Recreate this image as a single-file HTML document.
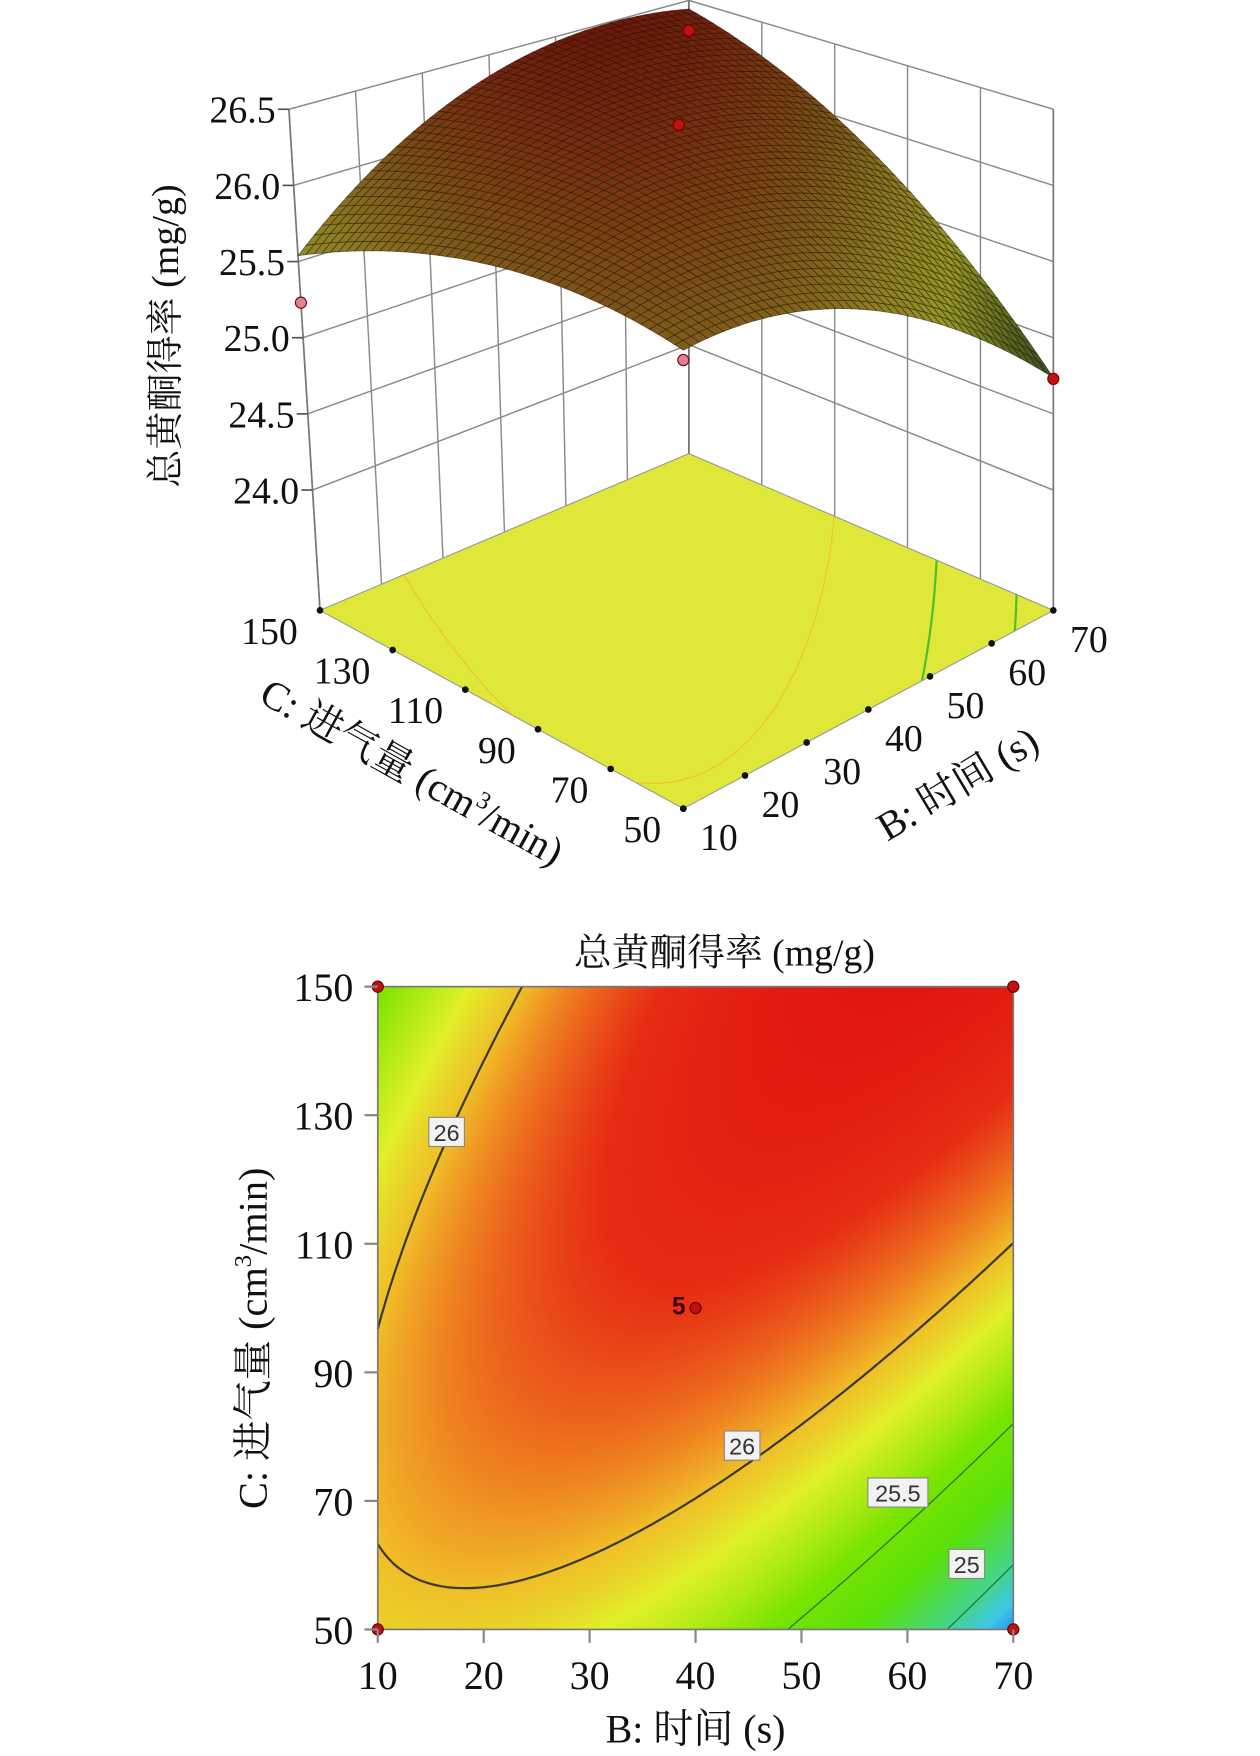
<!DOCTYPE html>
<html><head><meta charset="utf-8">
<style>
html,body{margin:0;padding:0;background:#fff;overflow:hidden}
#wrap{position:absolute;left:0;top:0;width:1134px;height:1568px;transform-origin:0 0;transform:scale(1.1111,1.1199)}
#svg3d,#svg2d{position:absolute;left:0;top:0}
#heat{position:absolute;left:340px;top:881px;width:572px;height:574px}
text{font-family:"Liberation Serif","Noto Serif CJK SC","Noto Sans CJK SC",serif;fill:#111}
</style></head>
<body>
<div id="wrap">
<svg id="svg3d" width="1134" height="800" viewBox="0 0 1134 800"></svg>
<canvas id="heat" width="572" height="574"></canvas>
<svg id="svg2d" width="1134" height="1568" viewBox="0 0 1134 1568"></svg>
</div>
<script>
// ---- model data (coded units x=(B-40)/30, y=(C-100)/50) ----
const coefNames = ["b0","b1","b2","b12","b11","b22"];
const coefValues = [26.28, -0.075, 0.325, 0.525, -0.367, -0.25];
const zTicks = [24.0, 24.5, 25.0, 25.5, 26.0, 26.5];
const bTicks = [10, 20, 30, 40, 50, 60, 70];
const cTicks = [50, 70, 90, 110, 130, 150];
const cTicks3d = [50, 70, 90, 110, 130, 150];
const contourLevels = [26, 25.5, 25];
const labelLevels = ["26", "26", "25.5", "25"];
const labelB = [16.5, 44.4, 59.1, 65.6];
const labelC = [127.4, 78.6, 71.3, 60.2];
const ptB = [10, 70, 10, 70, 40];
const ptC = [50, 50, 150, 150, 100];
const ptZ3d = [25.88, 24.73, 25.23, 26.28, 26.46];

const NS = "http://www.w3.org/2000/svg";
function mk(parent, tag, attrs){const e=document.createElementNS(NS,tag);for(const k in attrs)e.setAttribute(k,attrs[k]);parent.appendChild(e);return e;}
function f(B,C){const x=(B-40)/30,y=(C-100)/50,c=coefValues;return c[0]+c[1]*x+c[2]*y+c[3]*x*y+c[4]*x*x+c[5]*y*y;}

// ---------------- 3D surface ----------------
const s3=document.getElementById('svg3d');
const z0=23.21;
const cF=[615,722],cR=[948,545],cL=[288,545],cK=[620,405];
const kF=150,kR=136,kL=136,kK=123, sF=0,sR=0,sL=-8.5,sK=0;
function P(B,C,z){const u=(B-10)/60,v=(C-50)/100;
 const w=[(1-u)*(1-v),u*(1-v),(1-u)*v,u*v];
 const x=w[0]*cF[0]+w[1]*cR[0]+w[2]*cL[0]+w[3]*cK[0];
 const y=w[0]*cF[1]+w[1]*cR[1]+w[2]*cL[1]+w[3]*cK[1];
 const k=w[0]*kF+w[1]*kR+w[2]*kL+w[3]*kK;
 const s=w[0]*sF+w[1]*sR+w[2]*sL+w[3]*sK;
 return [x+s*(z-z0), y-k*(z-z0)];}
function line(p,q,st,sw,name){const e=mk(s3,'line',{x1:p[0],y1:p[1],x2:q[0],y2:q[1],stroke:st,'stroke-width':sw});
 return e;}
const gc="#8a8a8a";
bTicks.forEach(B=>{line(P(B,150,z0),P(B,150,26.5),gc,1.3,'left-wall-gridline');});
cTicks3d.forEach(C=>{line(P(70,C,z0),P(70,C,26.5),gc,1.3,'right-wall-gridline');});
zTicks.forEach(z=>{line(P(10,150,z),P(70,150,z),gc,1.3,'left-wall-z-gridline');line(P(70,150,z),P(70,50,z),gc,1.3,'right-wall-z-gridline');});
const fl=mk(s3,'polygon',{points:[P(10,50,z0),P(70,50,z0),P(70,150,z0),P(10,150,z0)].map(p=>p.join(',')).join(' '),fill:'#dfe838',stroke:'#999','stroke-width':1});

function segs(level,N){const out=[];const g=[];for(let i=0;i<=N;i++){g[i]=[];for(let j=0;j<=N;j++)g[i][j]=f(10+60*i/N,50+100*j/N);}
 for(let i=0;i<N;i++)for(let j=0;j<N;j++){const v=[g[i][j],g[i+1][j],g[i+1][j+1],g[i][j+1]];
  const pts=[[i,j],[i+1,j],[i+1,j+1],[i,j+1]];const cr=[];
  for(let e=0;e<4;e++){const a=v[e],b=v[(e+1)%4];if((a-level)*(b-level)<0){const t=(level-a)/(b-a);const p=pts[e],q=pts[(e+1)%4];
   cr.push([10+60*(p[0]+t*(q[0]-p[0]))/N,50+100*(p[1]+t*(q[1]-p[1]))/N]);}}
  if(cr.length===2)out.push([cr[0],cr[1]]);else if(cr.length===4){out.push([cr[0],cr[1]]);out.push([cr[2],cr[3]]);}}
 return out;}
[25.5,25,26].forEach((lv,ii)=>{let d='';segs(lv,60).forEach(s=>{const a=P(s[0][0],s[0][1],z0),b=P(s[1][0],s[1][1],z0);d+='M'+a[0].toFixed(1)+' '+a[1].toFixed(1)+'L'+b[0].toFixed(1)+' '+b[1].toFixed(1);});
 const p=mk(s3,'path',{d:d,stroke:ii<2?'#4ac030':'#f0c030','stroke-width':ii<2?2:1,fill:'none'});
 });
line(P(10,150,z0),P(10,150,26.5),'#777',1.5,'z-axis-line');
line(P(70,150,z0-0.0),P(70,150,26.5),'#777',1.5,'back-corner-line');
line(P(70,50,z0),P(70,50,26.5),'#777',1.5,'right-edge-line');
function scol(z){const st=[[24.6,[40,70,50]],[25.0,[85,100,30]],[25.4,[150,150,40]],[25.7,[140,125,35]],[26.0,[125,85,25]],[26.3,[120,45,15]],[26.5,[110,22,10]]];
 if(z<=st[0][0])return st[0][1];for(let i=1;i<st.length;i++)if(z<=st[i][0]){const t=(z-st[i-1][0])/(st[i][0]-st[i-1][0]);return st[i-1][1].map((c,k)=>Math.round(c+t*(st[i][1][k]-c)));}return st[st.length-1][1];}
const N=46,quads=[];
for(let i=0;i<N;i++)for(let j=0;j<N;j++)quads.push([i,j]);
quads.sort((a,b)=>(b[0]+b[1])-(a[0]+a[1]));
const sg=mk(s3,'g',{});
quads.forEach(([i,j])=>{const B0=10+60*i/N,B1=10+60*(i+1)/N,C0=50+100*j/N,C1=50+100*(j+1)/N;
 const cs=[[B0,C0],[B1,C0],[B1,C1],[B0,C1]];const ps=cs.map(c=>P(c[0],c[1],f(c[0],c[1])));
 const zm=f((B0+B1)/2,(C0+C1)/2);const col=scol(zm);
 const e=mk(sg,'polygon',{points:ps.map(p=>p[0].toFixed(1)+','+p[1].toFixed(1)).join(' '),fill:'rgb('+col.join(',')+')',stroke:'rgba(25,20,0,0.55)','stroke-width':0.7});
 });
ptB.forEach((B,i)=>{const p=P(B,ptC[i],ptZ3d[i]);const c=mk(s3,'circle',{cx:p[0],cy:p[1],r:5,fill:(i===0||i===2)?'#e08090':'#c01010',stroke:'#700','stroke-width':1});
 });
zTicks.forEach(z=>{const p=P(10,150,z);line([p[0]-10,p[1]],p,'#555',1.5,'z-tick');
 const t=mk(s3,'text',{x:p[0]-12,y:p[1]+12,'text-anchor':'end','font-size':34});t.textContent=z.toFixed(1);
 });
cTicks3d.forEach(C=>{const p=P(10,C,z0);const d=mk(s3,'circle',{cx:p[0],cy:p[1],r:3,fill:'#111'});
 const t=mk(s3,'text',{x:p[0]-20,y:p[1]+30,'text-anchor':'end','font-size':34});t.textContent=C;
 });
bTicks.forEach(B=>{const p=P(B,50,z0);const d=mk(s3,'circle',{cx:p[0],cy:p[1],r:3,fill:'#111'});
 const t=mk(s3,'text',{x:p[0]+15,y:p[1]+37,'text-anchor':'start','font-size':34});t.textContent=B;
 });
</script>
<script>
(function(){
 const s3=document.getElementById('svg3d');
 s3.insertAdjacentHTML('beforeend',
 '<text x="0" y="0" font-size="34" text-anchor="middle" transform="translate(160,300) rotate(-90)">总黄酮得率 (mg/g)</text>'+
 '<text x="0" y="0" font-size="36" text-anchor="middle" transform="translate(365,700) rotate(29)">C: 进气量 (cm<tspan font-size="22" dy="-14">3</tspan><tspan dy="14">/min)</tspan></text>'+
 '<text x="0" y="0" font-size="36" text-anchor="middle" transform="translate(868,710) rotate(-31)">B: 时间 (s)</text>');
})();
</script>
<script>
(function(){
const X0=340,X1=912,Y0=881,Y1=1455;
const sx=B=>X0+(B-10)/60*(X1-X0), sy=C=>Y1-(C-50)/100*(Y1-Y0);
const cv=document.getElementById('heat');const ctx=cv.getContext('2d');
const img=ctx.createImageData(572,574);
const stops=[[24.6,[30,70,235]],[24.85,[60,200,230]],[25.05,[70,215,120]],[25.3,[90,225,10]],[25.55,[120,228,0]],[25.85,[225,240,40]],[26.0,[240,190,40]],[26.15,[238,115,30]],[26.3,[230,45,20]],[26.5,[225,22,15]]];
function cm(z){if(z<=stops[0][0])return stops[0][1];for(let i=1;i<stops.length;i++)if(z<=stops[i][0]){const t=(z-stops[i-1][0])/(stops[i][0]-stops[i-1][0]);return stops[i-1][1].map((c,k)=>c+t*(stops[i][1][k]-c));}return stops[stops.length-1][1];}
for(let py=0;py<574;py++)for(let px=0;px<572;px++){const B=10+60*px/571,C=150-100*py/573;const c=cm(f(B,C));const o=(py*572+px)*4;img.data[o]=c[0];img.data[o+1]=c[1];img.data[o+2]=c[2];img.data[o+3]=255;}
ctx.putImageData(img,0,0);
const s=document.getElementById('svg2d');
function add(tag,attrs,name){const e=mk(s,tag,attrs);return e;}
contourLevels.forEach((lv,ii)=>{let d='';segs(lv,90).forEach(g=>{d+='M'+sx(g[0][0]).toFixed(1)+' '+sy(g[0][1]).toFixed(1)+'L'+sx(g[1][0]).toFixed(1)+' '+sy(g[1][1]).toFixed(1);});
 add('path',{d:d,stroke:ii===0?'#3a3a30':'#2a7a30','stroke-width':ii===0?2:1.2,fill:'none'},'contour-line-'+String(lv).replace('.','-'));});
add('rect',{x:X0,y:Y0,width:X1-X0,height:Y1-Y0,fill:'none',stroke:'#777','stroke-width':1.5},'plot-frame');
labelLevels.forEach((t,i)=>{const x=sx(labelB[i]),y=sy(labelC[i]);const w=t.length*11+10;
 add('rect',{x:x-w/2,y:y-13,width:w,height:26,fill:'#f2f2f2',stroke:'#888','stroke-width':1},'contour-label-box');
 const tx=add('text',{x:x,y:y+8,'text-anchor':'middle','font-size':21,style:'font-family:"Liberation Sans",sans-serif;fill:#333'},'contour-label');tx.textContent=t;});
ptB.forEach((B,i)=>{add('circle',{cx:sx(B),cy:sy(ptC[i]),r:5,fill:'#c01010',stroke:'#600','stroke-width':1},'design-point');});
const c5=add('text',{x:sx(40)-9,y:sy(100)+6,'text-anchor':'end','font-size':22,'font-weight':'bold',style:'font-family:"Liberation Sans",sans-serif;fill:#400'},'center-point-count');c5.textContent='5';
bTicks.forEach(B=>{add('line',{x1:sx(B),y1:Y1,x2:sx(B),y2:Y1+12,stroke:'#888','stroke-width':2},'x-tick');
 const t=add('text',{x:sx(B),y:1508,'text-anchor':'middle','font-size':36},'x-tick-label');t.textContent=B;});
cTicks.forEach(C=>{add('line',{x1:X0-12,y1:sy(C),x2:X0,y2:sy(C),stroke:'#888','stroke-width':2},'y-tick');
 const t=add('text',{x:318,y:sy(C)+13,'text-anchor':'end','font-size':36},'y-tick-label');t.textContent=C;});
s.insertAdjacentHTML('beforeend',
 '<text x="652" y="862" font-size="34" text-anchor="middle">总黄酮得率 (mg/g)</text>'+
 '<text x="626" y="1556" font-size="36" text-anchor="middle">B: 时间 (s)</text>'+
 '<text x="0" y="0" font-size="36" text-anchor="middle" transform="translate(240,1195) rotate(-90)">C: 进气量 (cm<tspan font-size="22" dy="-14">3</tspan><tspan dy="14">/min)</tspan></text>');
})();
</script>
</body></html>
